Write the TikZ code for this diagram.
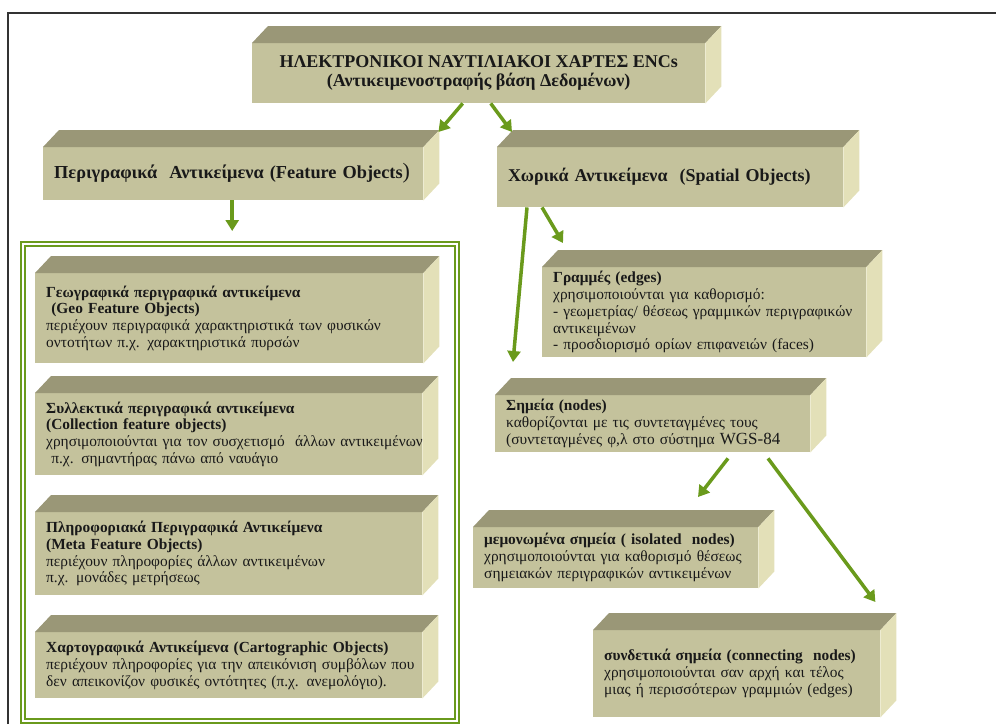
\documentclass[tikz,border=0pt]{standalone}
\usepackage{fontspec}
\setmainfont{Liberation Serif}
\usetikzlibrary{arrows.meta, positioning}

\definecolor{frontc}{HTML}{C4C29C}
\definecolor{topc}{HTML}{9A9777}
\definecolor{sidec}{HTML}{E3E0B8}
\definecolor{arrowc}{HTML}{6A9A1C}

\begin{document}
\begin{tikzpicture}[x=1pt, y=-1pt,
    slab/.style={rectangle, fill=frontc, anchor=north west, inner xsep=11pt,
        inner ysep=0pt, align=left, text=black!90, font=\fontsize{15.4}{16.8}\selectfont},
    headslab/.style={slab, align=center, font=\fontsize{18}{18.5}\selectfont\bfseries},
    frame/.style={rectangle, draw=arrowc, line width=2.2pt, anchor=north west,
        double=white, double distance=1.3pt, inner sep=0pt},
    flow/.style={draw=arrowc, line width=3.5pt, -{Triangle[length=11pt, width=13pt]}}
]
\useasboundingbox (0,0) rectangle (996,724);
\draw[line width=1.2pt, black!80] (8,724) -- (8,13) -- (996,13);

\node (Charts) [headslab, minimum width=453pt, minimum height=60pt] at (252,43)
  {ΗΛΕΚΤΡΟΝΙΚΟΙ ΝΑΥΤΙΛΙΑΚΟΙ ΧΑΡΤΕΣ ENCs\\(Αντικειμενοστραφής βάση Δεδομένων)};

\node (Feature) [slab, minimum width=380pt, minimum height=53pt, text width=358pt,
    font=\fontsize{18.3}{20}\selectfont\bfseries] at (43,147)
  {Περιγραφικά\ \ Αντικείμενα (Feature Objects{\fontsize{22}{20}\selectfont\mdseries)}};
\node (Spatial) [slab, minimum width=346pt, minimum height=60pt, text width=324pt,
    font=\fontsize{18}{20}\selectfont\bfseries] at (497,147)
  {Χωρικά Αντικείμενα\ \ (Spatial Objects)};

\node (FeatureFrame) [frame, minimum width=434pt, minimum height=477pt] at (22,243) {};

\node (GeoFeature) [slab, minimum width=388pt, minimum height=90pt, text width=366pt] at (35,273)
  {\textbf{Γεωγραφικά περιγραφικά αντικείμενα}\\
   \textbf{\ (Geo Feature Objects)}\\
   περιέχουν περιγραφικά χαρακτηριστικά των φυσικών\\
   οντοτήτων π.χ. χαρακτηριστικά πυρσών};
\node (Collection) [slab, minimum width=387pt, minimum height=82pt, text width=365pt] at (35,393)
  {\textbf{Συλλεκτικά περιγραφικά αντικείμενα}\\
   \textbf{(Collection feature objects)}\\
   \mbox{χρησιμοποιούνται για τον συσχετισμό\ \ άλλων αντικειμένων}\\
   \ π.χ. σημαντήρας πάνω από ναυάγιο};
\node (MetaFeature) [slab, minimum width=387pt, minimum height=83pt, text width=365pt] at (35,512)
  {\textbf{Πληροφοριακά Περιγραφικά Αντικείμενα}\\
   \textbf{(Meta Feature Objects)}\\
   περιέχουν πληροφορίες άλλων αντικειμένων\\
   π.χ. μονάδες μετρήσεως};
\node (Cartographic) [slab, minimum width=387pt, minimum height=66pt, text width=365pt] at (35,632)
  {\textbf{Χαρτογραφικά Αντικείμενα (Cartographic Objects)}\\
   \mbox{περιέχουν πληροφορίες για την απεικόνιση συμβόλων που}\\
   \mbox{δεν απεικονίζον φυσικές οντότητες (π.χ. ανεμολόγιο).}};

\node (Edges) [slab, minimum width=324pt, minimum height=90pt, text width=302pt] at (542,267)
  {\textbf{Γραμμές (edges)}\\
   χρησιμοποιούνται για καθορισμό:\\
   - γεωμετρίας/ θέσεως γραμμικών περιγραφικών\\
   αντικειμένων\\
   - προσδιορισμό ορίων επιφανειών (faces)};
\node (Nodes) [slab, minimum width=315pt, minimum height=57pt, text width=293pt] at (495,395)
  {\textbf{Σημεία (nodes)}\\
   καθορίζονται με τις συντεταγμένες τους\\
   (συντεταγμένες φ,λ στο σύστημα {\fontsize{17}{17}\selectfont WGS-84}};
\node (Isolated) [slab, minimum width=285pt, minimum height=61pt, text width=263pt] at (473,527)
  {\textbf{μεμονωμένα σημεία ( isolated\ \ nodes)}\\
   χρησιμοποιούνται για καθορισμό θέσεως\\
   σημειακών περιγραφικών αντικειμένων};
\node (Connecting) [slab, minimum width=287pt, minimum height=87pt, text width=265pt] at (593,630)
  {\textbf{συνδετικά σημεία (connecting\ \ nodes)}\\
   χρησιμοποιούνται σαν αρχή και τέλος\\
   μιας ή περισσότερων γραμμιών (edges)};

% top and side faces of the slabs
\foreach \b in {Charts, Feature, Spatial, GeoFeature, Collection, MetaFeature,
    Cartographic, Edges, Nodes, Isolated, Connecting} {
  \fill[topc] (\b.north west) -- ++(16,-17) -- ([shift={(16,-17)}]\b.north east)
    -- (\b.north east) -- cycle;
  \fill[sidec] (\b.north east) -- ++(16,-17) -- ([shift={(16,-17)}]\b.south east)
    -- (\b.south east) -- cycle;
}

\draw[flow] ([xshift=-16pt]Charts.south) -- ([shift={(15,-15)}]Feature.north east);
\draw[flow] ([xshift=12pt]Charts.south) -- ([shift={(15,-15)}]Spatial.north west);
\draw[flow] ([xshift=-1pt]Feature.south) -- ([xshift=-1pt, yshift=12pt]Feature.south |- FeatureFrame.north);
\draw[flow] ([xshift=30pt]Spatial.south west) -- ([shift={(18,-33)}]Nodes.north west);
\draw[flow] ([xshift=45pt]Spatial.south west) -- ([shift={(21,-24)}]Edges.north west);
\draw[flow] ([shift={(233,6)}]Nodes.south west) -- ([shift={(225,-30)}]Isolated.north west);
\draw[flow] ([shift={(273,6)}]Nodes.south west) -- ([shift={(-5,-28)}]Connecting.north east);

\end{tikzpicture}
\end{document}
